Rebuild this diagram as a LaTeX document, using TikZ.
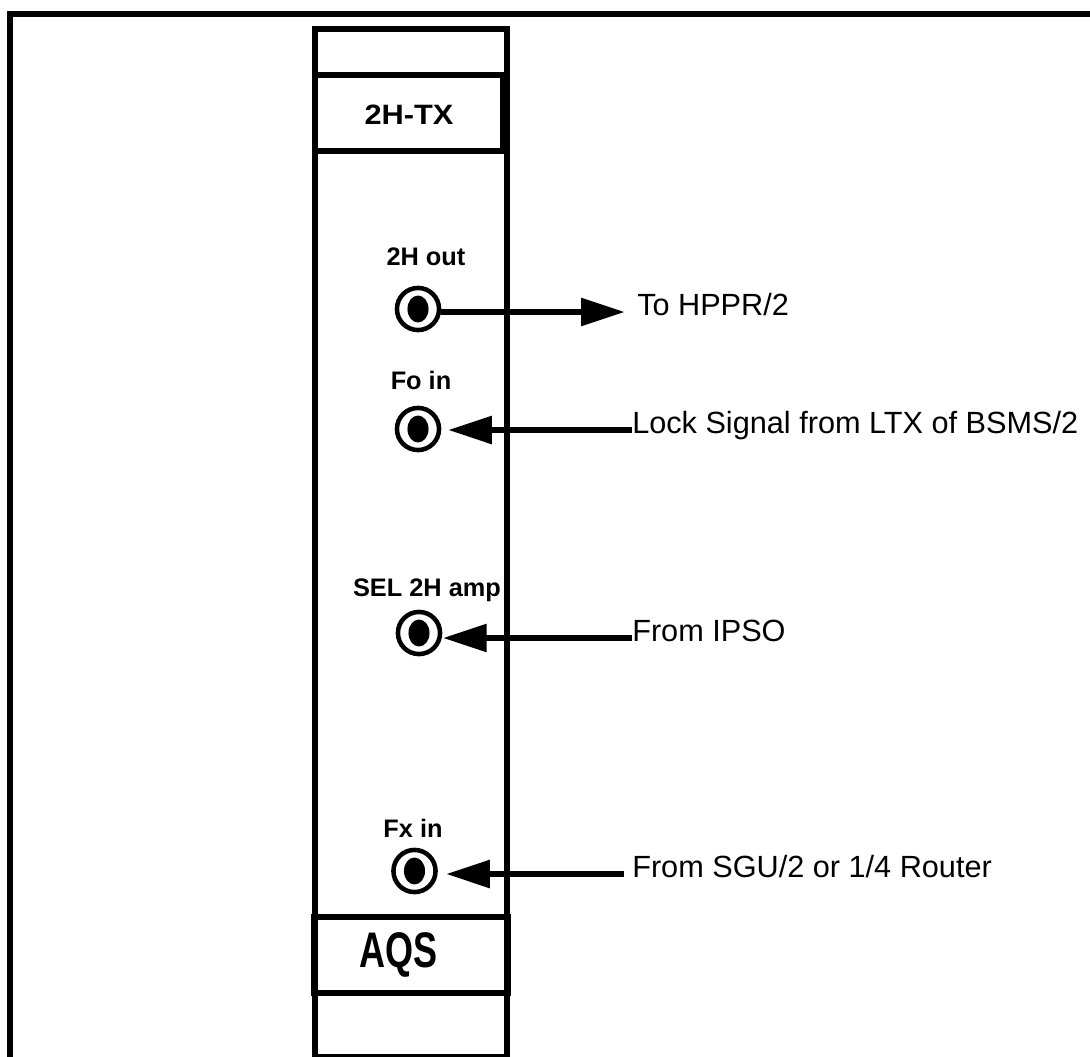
\documentclass[tikz,border=0pt]{standalone}
\usepackage{fontspec}
\setmainfont{Liberation Sans}
\usepackage{graphicx}
\usetikzlibrary{arrows.meta}

\begin{document}
\begin{tikzpicture}[x=0.75pt,y=0.75pt,yscale=-1,xscale=1,
  frame/.style={line width=4.6pt},
  boxline/.style={line width=4.5pt},
  jack/.style={circle,draw,line width=3.4pt,minimum size=31.6pt,inner sep=0pt,
    path picture={\fill (path picture bounding box.center) ellipse [x radius=7.9pt,y radius=10.1pt];}},
  portlbl/.style={font=\bfseries\fontsize{19}{21}\selectfont,inner sep=0pt},
  siglbl/.style={font=\fontsize{23}{25}\selectfont,anchor=west,inner sep=0pt,text height=0.5em,text depth=0.05em},
  wire/.style={line width=5.1pt,-{Triangle[length=33pt,width=20pt]}}]
\useasboundingbox (0,0) rectangle (1090,1057);
\clip (0,0) rectangle (1090,1057);

%Straight Lines: outer frame
\draw [frame] (10,1075) -- (10,14) -- (1100,14) ;
%Shape: Rectangle (module panel)
\draw [boxline] (315,29) rectangle (507,1057) ;
%Straight Lines
\draw [boxline] (315,74.5) -- (507,74.5) ;
%Shape: Rectangle
\draw [boxline] (315,74.5) rectangle (503,151) ;
%Shape: Rectangle
\draw [boxline] (314,917) rectangle (508,993) ;

% Text Node
\node (txname) at (409,115) [font=\bfseries\fontsize{21}{23}\selectfont] {\scalebox{1.1}[1]{2H-TX}};
% Text Node
\node (aqsname) at (399,955) [font=\bfseries\fontsize{37.5}{40}\selectfont] {\scalebox{0.72}[1]{AQS}};

%Shape: Jacks
\node [jack] (out2h) at (418,309) {};
\node [jack] (foin) at (418,429) {};
\node [jack] (sel) at (419,633) {};
\node [jack] (fxin) at (414.5,871) {};

% Text Node
\node [portlbl] (lblout) at (426,257) {2H out};
\node [portlbl] (lblfo) at (421,380) {Fo in};
\node [portlbl] (lblsel) at (427,590) {SEL 2H amp};
\node [portlbl] (lblfx) at (413,828) {Fx in};

% Text Node
\node [siglbl] (hppr) at (637,312) {To HPPR/2};
\node [siglbl] (lock) at (632,430) {Lock Signal from LTX of BSMS/2};
\node [siglbl] (ipso) at (632,638) {From IPSO};
\node [siglbl] (sgu) at (632,874) {From SGU/2 or 1/4 Router};

%Straight Lines with arrows
\draw [wire,shorten >=9pt] (out2h.east |- hppr.west) -- (hppr.west) ;
\draw [wire,shorten >=4.9pt] (lock.west) -- (lock.west -| foin.east) ;
\draw [wire,shorten >=0.3pt] (ipso.west) -- (ipso.west -| sel.east) ;
\draw [wire,shorten <=6pt,shorten >=6pt] (sgu.west) -- (sgu.west -| fxin.east) ;

\end{tikzpicture}
\end{document}
